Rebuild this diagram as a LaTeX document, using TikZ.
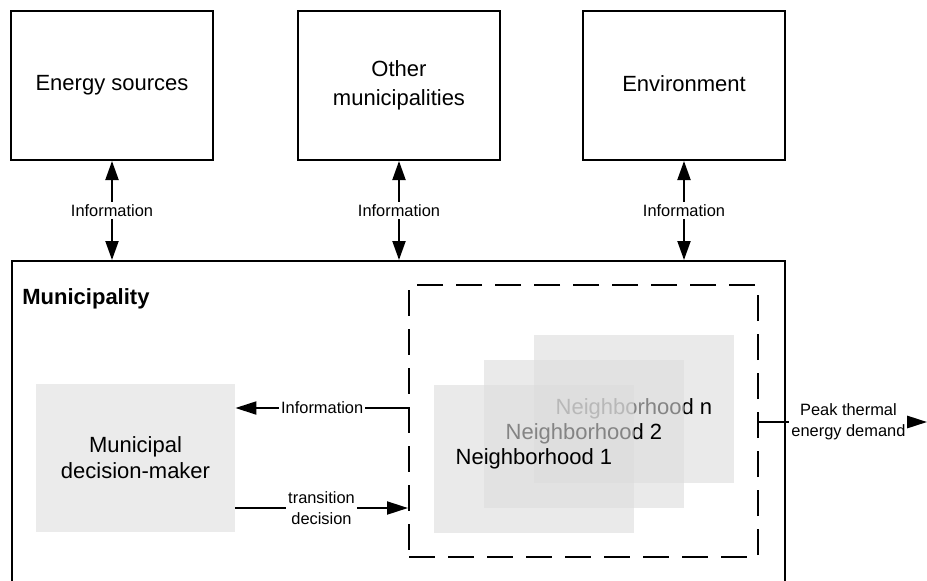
\documentclass[tikz,border=0pt]{standalone}
\usepackage{fontspec}
\setmainfont{Liberation Sans}
\usetikzlibrary{arrows.meta,calc}
\definecolor{boxgray}{HTML}{EBEBEB}
\definecolor{nbgray}{HTML}{DCDCDC}
\begin{document}
\begin{tikzpicture}[x=0.5pt,y=-0.5pt,
  bigfont/.style={font=\fontsize{11}{13}\selectfont},
  topfont/.style={font=\fontsize{11}{14.5}\selectfont},
  smallfont/.style={font=\fontsize{8.2}{10.5}\selectfont},
  topbox/.style={draw, line width=1pt, minimum width=101pt, minimum height=74.5pt, align=center, topfont},
  arr/.style={line width=1pt, -{Triangle[length=10.5pt,width=6.5pt]}},
  darr/.style={line width=1pt, {Triangle[length=9.5pt,width=6.5pt]}-{Triangle[length=9.5pt,width=6.5pt]}},
  lbl/.style={fill=white, inner sep=1pt, smallfont, align=center},
  nbbox/.style={fill=nbgray, fill opacity=0.6, text opacity=1, minimum width=100pt, minimum height=74pt, bigfont}
]
\useasboundingbox (0,0) rectangle (927,580);
\clip (0,0) rectangle (927,580);

% top boxes
\node[topbox] (es) at (112,85.5) {Energy sources};
\node[topbox] (om) at (399,85.5) {Other\\municipalities};
\node[topbox] (env) at (684,85.5) {Environment\vphantom{gy}};

% municipality
\node[draw, line width=1pt, anchor=north west, minimum width=386.5pt, minimum height=170pt, inner sep=0pt] (muni) at (11,260) {};
\node[anchor=base west, font=\fontsize{11}{13}\selectfont\bfseries, inner sep=0pt] (munilbl) at (22,304) {Municipality};

% information arrows
\draw[darr] (es.south) -- node[lbl] (i1) {Information} (es.south |- muni.north);
\draw[darr] (om.south) -- node[lbl] (i2) {Information} (om.south |- muni.north);
\draw[darr] (env.south) -- node[lbl] (i3) {Information} (env.south |- muni.north);

% decision maker
\node[fill=boxgray, minimum width=99.5pt, minimum height=74pt, align=center, bigfont] (dm) at (135.5,457.5) {Municipal\\decision-maker};

% neighborhoods
\node[nbbox] (nn) at (634,409) {Neighborhood n};
\node[nbbox] (n2) at (584,434) {Neighborhood 2};
\node[nbbox] (n1) at (534,459) {Neighborhood 1};

% dashed box
\node[draw, line width=1pt, dash pattern=on 13pt off 6.5pt, minimum width=174.5pt, minimum height=136pt, inner sep=0pt] (nbh) at (583.5,421) {};

% internal arrows
\coordinate (infoR) at (409,408);
\coordinate (transL) at (235,508);
\draw[arr] (infoR) -- node[lbl] (i4) {Information} (infoR -| dm.east);
\draw[arr] (transL) -- node[lbl] (td) {transition\\decision} (transL -| nbh.west);

% peak demand
\coordinate (peakL) at (758,422);
\coordinate (peakR) at (927,422);
\draw[arr] (peakL) -- node[lbl, pos=0.535] (pk) {Peak thermal\\energy demand} (peakR);
\end{tikzpicture}
\end{document}
